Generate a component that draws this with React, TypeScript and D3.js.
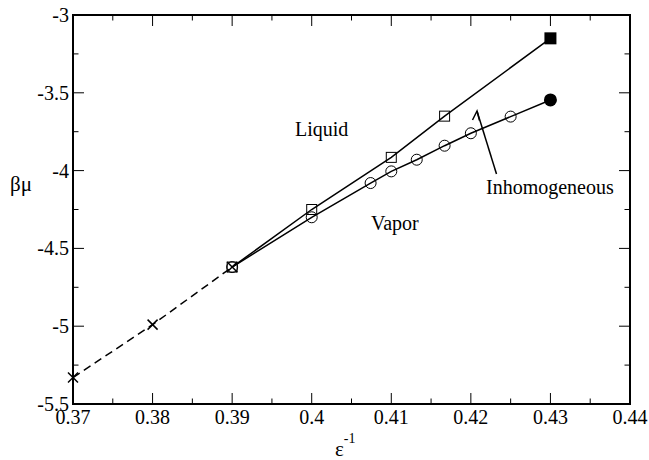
import React from "react";
import * as d3 from "d3";

const liquidX = [0.39, 0.40, 0.41, 0.4167];
const liquidY = [-4.62, -4.25, -3.915, -3.65];
const liquidEndX = [0.43];
const liquidEndY = [-3.15];

const vaporX = [0.39, 0.40, 0.4074, 0.41, 0.4132, 0.4167, 0.42, 0.425];
const vaporY = [-4.62, -4.30, -4.08, -4.005, -3.93, -3.84, -3.76, -3.653];
const vaporEndX = [0.43];
const vaporEndY = [-3.546];

const extrapX = [0.37, 0.38, 0.39];
const extrapY = [-5.33, -4.99, -4.62];

const xTicks = [0.37, 0.38, 0.39, 0.40, 0.41, 0.42, 0.43, 0.44];
const xTickLabels = ["0.37", "0.38", "0.39", "0.4", "0.41", "0.42", "0.43", "0.44"];
const xMinor = [0.375, 0.385, 0.395, 0.405, 0.415, 0.425, 0.435];
const yTicks = [-3, -3.5, -4, -4.5, -5, -5.5];
const yTickLabels = ["-3", "-3.5", "-4", "-4.5", "-5", "-5.5"];
const yMinor = [-3.25, -3.75, -4.25, -4.75, -5.25];

const W = 649, H = 460;
const L = 73, R = 630, T = 15, B = 404;
const FONT = "Liberation Serif, DejaVu Serif, Times New Roman, Times, serif";

export default function App() {
  const x = d3.scaleLinear().domain([0.37, 0.44]).range([L, R]);
  const y = d3.scaleLinear().domain([-5.5, -3]).range([B, T]);
  const line = d3.line<[number, number]>().x(d => x(d[0])).y(d => y(d[1]));

  const liqPts: [number, number][] = liquidX.map((v, i) => [v, liquidY[i]]);
  const liqLine: [number, number][] = [...liqPts, [liquidEndX[0], liquidEndY[0]]];
  const vapPts: [number, number][] = vaporX.map((v, i) => [v, vaporY[i]]);
  const vapLine: [number, number][] = [...vapPts, [vaporEndX[0], vaporEndY[0]]];
  const extPts: [number, number][] = extrapX.map((v, i) => [v, extrapY[i]]);

  const MJ = 11, MN = 5.5;
  const xs = 5;
  const sq = 5;

  return (
    <svg width={W} height={H} style={{ position: "absolute", left: 0, top: 0, background: "#fff" }}>
      <rect x={0} y={0} width={W} height={H} fill="#fff" />
      <path d={line(extPts) || ""} fill="none" stroke="#000" strokeWidth={1.5} strokeDasharray="8,5" />
      <path d={line(liqLine) || ""} fill="none" stroke="#000" strokeWidth={1.5} />
      <path d={line(vapLine) || ""} fill="none" stroke="#000" strokeWidth={1.5} />

      {vapPts.map((p, i) => (
        <circle key={"c" + i} cx={x(p[0])} cy={y(p[1])} r={5.5} fill="none" stroke="#000" strokeWidth={1} />
      ))}
      {liqPts.map((p, i) => (
        <rect key={"s" + i} x={x(p[0]) - sq} y={y(p[1]) - sq} width={2 * sq} height={2 * sq} fill="none" stroke="#000" strokeWidth={1} />
      ))}
      {extPts.map((p, i) => (
        <g key={"x" + i} stroke="#000" strokeWidth={1.5}>
          <line x1={x(p[0]) - xs} y1={y(p[1]) - xs} x2={x(p[0]) + xs} y2={y(p[1]) + xs} />
          <line x1={x(p[0]) - xs} y1={y(p[1]) + xs} x2={x(p[0]) + xs} y2={y(p[1]) - xs} />
        </g>
      ))}
      <rect x={x(liquidEndX[0]) - 6} y={y(liquidEndY[0]) - 6} width={12} height={12} fill="#000" />
      <circle cx={x(vaporEndX[0])} cy={y(vaporEndY[0])} r={6.5} fill="#000" />

      <rect x={L} y={T} width={R - L} height={B - T} fill="none" stroke="#000" strokeWidth={2} />
      {xTicks.map(t => (
        <g key={"xt" + t} stroke="#000" strokeWidth={1}>
          <line x1={x(t)} x2={x(t)} y1={B} y2={B - MJ} />
          <line x1={x(t)} x2={x(t)} y1={T} y2={T + MJ} />
        </g>
      ))}
      {xMinor.map(t => (
        <g key={"xm" + t} stroke="#000" strokeWidth={1}>
          <line x1={x(t)} x2={x(t)} y1={B} y2={B - MN} />
          <line x1={x(t)} x2={x(t)} y1={T} y2={T + MN} />
        </g>
      ))}
      {yTicks.map(t => (
        <g key={"yt" + t} stroke="#000" strokeWidth={1}>
          <line x1={L} x2={L + MJ} y1={y(t)} y2={y(t)} />
          <line x1={R} x2={R - MJ} y1={y(t)} y2={y(t)} />
        </g>
      ))}
      {yMinor.map(t => (
        <g key={"ym" + t} stroke="#000" strokeWidth={1}>
          <line x1={L} x2={L + MN} y1={y(t)} y2={y(t)} />
          <line x1={R} x2={R - MN} y1={y(t)} y2={y(t)} />
        </g>
      ))}

      {xTicks.map((t, i) => (
        <text key={"xl" + t} x={x(t)} y={B + 20} textAnchor="middle" fontFamily={FONT} fontSize={20} fill="#000">
          {xTickLabels[i]}
        </text>
      ))}
      {yTicks.map((t, i) => (
        <text key={"yl" + t} x={L - 4} y={y(t) + 7} textAnchor="end" fontFamily={FONT} fontSize={20} fill="#000">
          {yTickLabels[i]}
        </text>
      ))}

      <text x={335} y={456} fontFamily={FONT} fontSize={21} fill="#000">
        ε<tspan dy={-13} fontSize={14}>-1</tspan>
      </text>
      <text x={10} y={191} fontFamily={FONT} fontSize={21} fill="#000">βμ</text>

      <text x={295} y={136} fontFamily={FONT} fontSize={20} fill="#000">Liquid</text>
      <text x={371} y={230} fontFamily={FONT} fontSize={20} fill="#000">Vapor</text>
      <text x={486} y={194} fontFamily={FONT} fontSize={20} fill="#000">Inhomogeneous</text>
      <g stroke="#000" strokeWidth={1.5} fill="none">
        <line x1={496.5} y1={174} x2={477} y2={111} />
        <polyline points="472.5,120 477,111 479.5,120.5" />
      </g>
    </svg>
  );
}
